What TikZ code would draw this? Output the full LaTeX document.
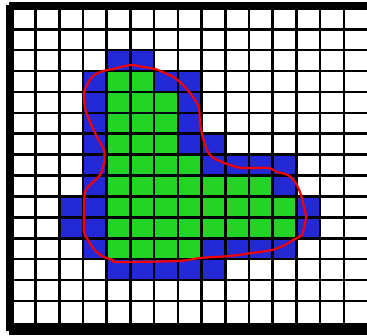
\documentclass[tikz,border=0pt]{standalone}
\usetikzlibrary{calc}
\definecolor{cellblue}{RGB}{35,41,212}
\definecolor{cellgreen}{RGB}{35,212,38}
\definecolor{curvered}{RGB}{245,0,0}
\tikzset{
  gridline/.style={line width=2.6pt,black},
  bluecell/.style={fill=cellblue},
  greencell/.style={fill=cellgreen},
  redcurve/.style={line width=2.2pt,curvered,line join=round},
}
\newcommand{\gx}[1]{35.5+23.72*(#1)}
\newcommand{\gy}[1]{29.3+20.9*(#1)}
\begin{document}
\begin{tikzpicture}[x=1pt,y=-1pt]
\useasboundingbox (0,0) rectangle (367,336);
\fill[white] (0,0) rectangle (367,336);
% blue cells
\foreach \r/\cs in {2/{4,5},3/{3,6,7},4/{3,7},5/{3,7},6/{3,7,8},7/{3,8,9,10,11},8/{3,11},9/{2,3,12},10/{2,3,12},11/{3,8,9,10,11},12/{4,5,6,7,8}}
  \foreach \c in \cs
    \fill[bluecell] ({\gx{\c-1}},{\gy{\r-1}}) rectangle ({\gx{\c}},{\gy{\r}});
% green cells
\foreach \r/\cs in {3/{4,5},4/{4,5,6},5/{4,5,6},6/{4,5,6},7/{4,5,6,7},8/{4,5,6,7,8,9,10},9/{4,5,6,7,8,9,10,11},10/{4,5,6,7,8,9,10,11},11/{4,5,6,7}}
  \foreach \c in \cs
    \fill[greencell] ({\gx{\c-1}},{\gy{\r-1}}) rectangle ({\gx{\c}},{\gy{\r}});
% grid
\foreach \k in {0,...,13} {
  \draw[gridline] ({\gx{\k}},10) -- ({\gx{\k}},323);
  \draw[gridline] (14,{\gy{\k}}) -- (367,{\gy{\k}});
}
% frame
\fill[black] (6,5) rectangle (14,331);
\fill[black] (9,2) rectangle (367,10);
\fill[black] (6,323) rectangle (367,331);
\fill[black] (9,331) rectangle (367,335);
% red curve
\draw[redcurve] plot[smooth cycle,tension=0.5] coordinates {
 (125,66) (133,65) (143,67) (155,69) (165,73) (175,78) (183,85) (190,93) (195,100) (199,108)
 (200,123) (203,138) (207,150) (212,157) (222,162) (230,165) (242,168) (268,168) (277,172)
 (288,175) (295,182) (300,192) (303,203) (306,217) (304,227) (302,235) (293,240) (285,245)
 (272,250) (252,253) (230,256) (200,258) (178,261) (118,262) (113,260) (102,256) (93,248)
 (88,240) (84,232) (84,213) (85,192) (92,183) (100,175) (104,163) (104,150) (97,137)
 (90,122) (85,108) (84,93) (87,85) (93,76) (103,71) (113,69)};
\end{tikzpicture}
\end{document}
